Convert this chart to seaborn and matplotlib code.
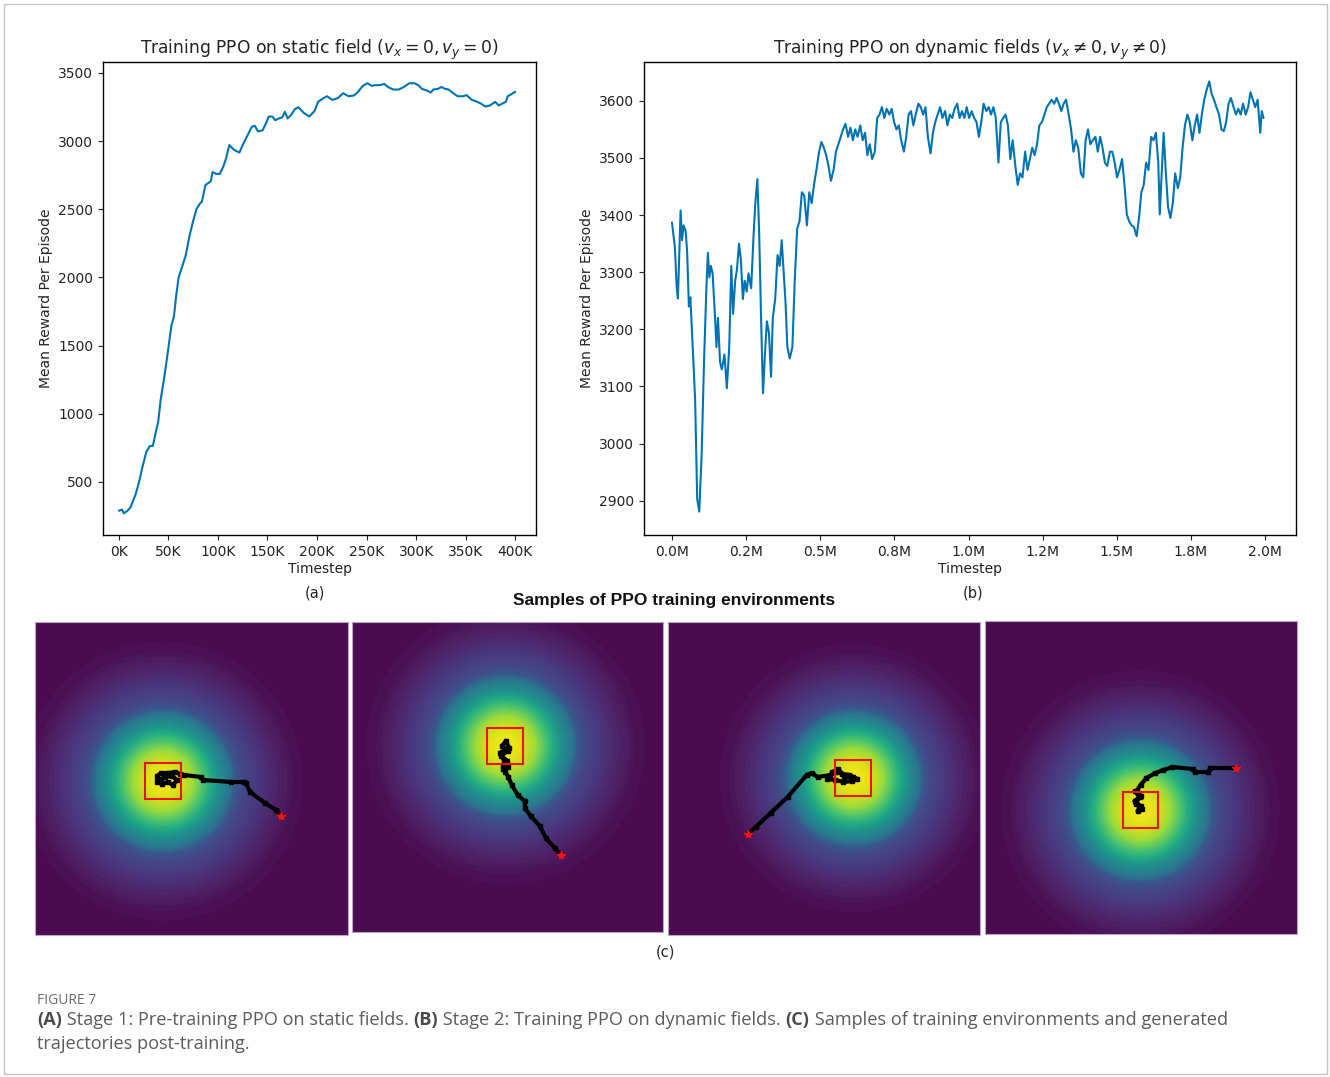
import numpy as np
import pandas as pd
import matplotlib
matplotlib.use("Agg")
import matplotlib.pyplot as plt
import seaborn as sns
from matplotlib.patches import Rectangle
from matplotlib.colors import ListedColormap
from matplotlib.ticker import FuncFormatter, FixedLocator

# ---------------- data ----------------
static_t_k = [0, 3.2, 5, 8.7, 11.5, 17, 20.6, 24, 27.8, 31.4, 34.3, 37.9, 39.7, 42.2, 45.8, 49.5, 53, 55.6,
              57.8, 60.3, 63.9, 67.5, 71.1, 74.7, 78.3, 81.9, 83.8, 87.4, 92.8, 94.6, 98.2, 101.8, 105.4, 108,
              111.5, 116.2, 121.7, 125.3, 130, 134.3, 137.2, 140.4, 145.1, 148.7, 151.3, 154.9, 157.8, 161.4,
              165, 167.5, 170.4, 174, 177.6, 181.2, 186.6, 192.1, 197.5, 201.1, 206.5, 210.1, 215.5, 221,
              226.3, 231.8, 237.2, 240.8, 246.2, 250.9, 255.2, 258.8, 263.2, 267.9, 271.5, 276.9, 282.3,
              287.7, 293.1, 298.6, 302.2, 305.8, 311.2, 314.8, 317.3, 322, 325.6, 329.3, 332.9, 336.5, 341.9,
              347.3, 350.9, 356.3, 361.7, 365.3, 370, 374.4, 379.8, 383.4, 387, 390.6, 392.4, 396, 400]
static_reward = [289, 297, 270, 289, 310, 411, 506, 615, 723, 764, 764, 886, 940, 1103, 1266, 1456, 1646, 1714,
                 1863, 1999, 2080, 2162, 2298, 2406, 2501, 2542, 2555, 2678, 2705, 2773, 2759, 2759, 2813, 2868,
                 2971, 2935, 2916, 2976, 3044, 3106, 3112, 3071, 3079, 3134, 3180, 3180, 3153, 3166,
                 3174, 3215, 3166, 3193, 3234, 3248, 3207, 3180, 3221, 3288, 3315, 3329, 3302, 3315,
                 3351, 3329, 3334, 3356, 3405, 3424, 3405, 3410, 3410, 3419, 3397, 3378, 3378,
                 3397, 3424, 3424, 3410, 3383, 3370, 3356, 3378, 3383, 3397, 3383, 3378, 3356, 3329,
                 3329, 3337, 3302, 3288, 3275, 3253, 3261, 3288, 3261, 3275, 3288, 3329, 3343, 3362]

dyn_t_m = [0, 0.0098, 0.016, 0.020, 0.025, 0.029, 0.034, 0.039, 0.046, 0.051, 0.057, 0.062, 0.070, 0.078,
           0.085, 0.092, 0.100, 0.108, 0.116, 0.121, 0.126, 0.131, 0.137, 0.144, 0.150, 0.155, 0.162, 0.168,
           0.177, 0.185, 0.193, 0.200, 0.206, 0.213, 0.219, 0.226, 0.232, 0.239, 0.245, 0.252, 0.258, 0.267,
           0.275, 0.281, 0.288, 0.294, 0.301, 0.307, 0.314, 0.320, 0.327, 0.334, 0.340, 0.348, 0.356, 0.363,
           0.370, 0.376, 0.383, 0.389, 0.397, 0.406, 0.414, 0.422, 0.430, 0.438, 0.446, 0.455, 0.463, 0.471,
           0.479, 0.487, 0.496, 0.504, 0.512, 0.520, 0.528, 0.536, 0.545, 0.553, 0.561, 0.569, 0.577, 0.585,
           0.594, 0.602, 0.610, 0.618, 0.626, 0.635, 0.643, 0.651, 0.659, 0.667, 0.675, 0.684, 0.692, 0.700,
           0.708, 0.716, 0.724, 0.733, 0.741, 0.749, 0.757, 0.765, 0.773, 0.782, 0.790, 0.798, 0.806, 0.814,
           0.822, 0.831, 0.839, 0.847, 0.855, 0.863, 0.872, 0.880, 0.888, 0.896, 0.904, 0.912, 0.921, 0.929,
           0.937, 0.945, 0.953, 0.962, 0.970, 0.978, 0.986, 0.994, 1.002, 1.011, 1.019, 1.027, 1.035, 1.043,
           1.051, 1.060, 1.068, 1.076, 1.084, 1.092, 1.101, 1.109, 1.117, 1.125, 1.133, 1.141, 1.149, 1.158,
           1.166, 1.174, 1.182, 1.191, 1.199, 1.207, 1.215, 1.223, 1.231, 1.239, 1.248, 1.256, 1.264, 1.272,
           1.280, 1.289, 1.297, 1.305, 1.313, 1.321, 1.329, 1.338, 1.346, 1.354, 1.362, 1.370, 1.379, 1.387,
           1.395, 1.403, 1.411, 1.419, 1.428, 1.436, 1.444, 1.452, 1.460, 1.468, 1.477, 1.485, 1.493, 1.501,
           1.509, 1.518, 1.526, 1.534, 1.542, 1.550, 1.558, 1.567, 1.575, 1.583, 1.591, 1.599, 1.607, 1.616,
           1.624, 1.632, 1.640, 1.645, 1.652, 1.658, 1.665, 1.673, 1.681, 1.689, 1.697, 1.706, 1.714, 1.722,
           1.730, 1.738, 1.746, 1.755, 1.763, 1.771, 1.779, 1.787, 1.795, 1.804, 1.812, 1.820, 1.828, 1.836,
           1.845, 1.853, 1.861, 1.869, 1.877, 1.885, 1.894, 1.902, 1.910, 1.918, 1.926, 1.935, 1.943, 1.951,
           1.959, 1.967, 1.975, 1.984, 1.989, 1.995]
dyn_reward = [3387, 3343, 3272, 3254, 3337, 3408, 3356, 3382, 3372, 3337, 3240, 3256, 3169, 3078,
              2903, 2881, 2981, 3143, 3272, 3334, 3291, 3311, 3298, 3233, 3169, 3220, 3143, 3130,
              3156, 3097, 3169, 3311, 3227, 3285, 3304, 3350, 3324, 3253, 3285, 3266, 3298, 3272,
              3363, 3421, 3463, 3369, 3207, 3088, 3162, 3214, 3194, 3117, 3220, 3253, 3330, 3311,
              3356, 3304, 3246, 3169, 3149, 3169, 3285, 3376, 3389, 3440, 3434, 3382, 3440, 3421,
              3453, 3479, 3511, 3528, 3518, 3505, 3486, 3460, 3479, 3511, 3524, 3537, 3550, 3560,
              3537, 3553, 3531, 3550, 3537, 3557, 3531, 3544, 3505, 3524, 3498, 3511, 3570, 3576,
              3589, 3570, 3586, 3576, 3586, 3563, 3550, 3557, 3531, 3511, 3537, 3576, 3582, 3557,
              3576, 3595, 3589, 3576, 3589, 3537, 3508, 3544, 3563, 3576, 3589, 3570, 3582, 3557,
              3576, 3570, 3586, 3595, 3570, 3582, 3570, 3589, 3570, 3582, 3570, 3563, 3537, 3563,
              3595, 3582, 3589, 3576, 3589, 3570, 3492, 3563, 3570, 3576, 3557, 3498, 3531, 3486,
              3453, 3473, 3466, 3511, 3479, 3498, 3518, 3505, 3524, 3557, 3563, 3576, 3589, 3595,
              3602, 3595, 3605, 3595, 3582, 3595, 3602, 3576, 3550, 3511, 3531, 3518, 3473, 3466,
              3531, 3550, 3524, 3531, 3537, 3511, 3537, 3518, 3492, 3486, 3511, 3511, 3492, 3466,
              3479, 3498, 3453, 3401, 3389, 3382, 3379, 3363, 3395, 3440, 3453, 3492, 3479, 3537,
              3531, 3544, 3492, 3401, 3479, 3544, 3479, 3414, 3395, 3421, 3473, 3447, 3466, 3518,
              3557, 3576, 3563, 3531, 3557, 3576, 3544, 3576, 3602, 3621, 3634, 3612, 3602, 3589,
              3576, 3550, 3547, 3563, 3595, 3605, 3589, 3576, 3586, 3576, 3595, 3576, 3589, 3615,
              3602, 3589, 3602, 3544, 3582, 3570]

static_xticks_k = [0, 50, 100, 150, 200, 250, 300, 350, 400]
static_yticks = [500, 1000, 1500, 2000, 2500, 3000, 3500]
dyn_xticks_m = [0, 0.25, 0.5, 0.75, 1.0, 1.25, 1.5, 1.75, 2.0]
dyn_yticks = [2900, 3000, 3100, 3200, 3300, 3400, 3500, 3600]

# environment samples (panel pixel units, 0..313)
field_cx = [128, 154, 186, 156]
field_cy = [159, 125, 156, 189]
field_scale = [1.0, 1.0, 0.96, 1.0]
# radial profile of the field (distance in px -> value on viridis scale)
profile_r = [0, 15, 30, 45, 55, 68, 73, 80, 95, 110, 130, 150]
profile_v = [1.0, 0.96, 0.86, 0.66, 0.52, 0.38, 0.27, 0.21, 0.15, 0.09, 0.03, 0.0]

traj1_x = [246, 241, 230, 215, 211, 209, 196, 168, 166, 149, 145, 140, 133, 126, 122, 122, 127, 133, 138, 142, 137, 130, 126]
traj1_y = [194, 188, 181, 170, 161, 160, 160, 158, 155, 153, 152, 150, 151, 151, 154, 160, 162, 160, 163, 158, 154, 155, 157]
traj2_x = [210, 204, 195, 189, 180, 174, 174, 167, 161, 157, 154, 152, 156, 150, 157, 151, 155, 158, 149, 153, 157, 152]
traj2_y = [235, 228, 218, 206, 196, 188, 181, 175, 165, 156, 151, 145, 140, 135, 130, 125, 120, 127, 132, 140, 146, 148]
traj3_x = [80, 88, 103, 120, 139, 144, 150, 163, 169, 175, 182, 190, 185, 176, 168, 160, 165, 171, 177, 186]
traj3_y = [212, 205, 191, 175, 153, 151, 155, 153, 150, 152, 153, 157, 159, 160, 158, 157, 150, 147, 155, 155]
traj4_x = [252, 226, 224, 211, 209, 188, 179, 171, 162, 156, 152, 157, 150, 156, 153, 158, 151, 155, 150]
traj4_y = [147, 147, 151, 151, 148, 146, 149, 152, 157, 164, 170, 175, 180, 185, 190, 188, 183, 176, 170]
box_half = 18

# ---------------- style ----------------
sns.set_theme(style="ticks")
plt.rcParams['font.family'] = ['DejaVu Sans']
plt.rcParams.update({
    'axes.edgecolor': 'black', 'axes.linewidth': 1.0,
    'xtick.color': '#222222', 'ytick.color': '#222222',
    'xtick.major.size': 3.5, 'ytick.major.size': 3.5,
    'xtick.major.width': 0.8, 'ytick.major.width': 0.8,
    'xtick.labelsize': 10, 'ytick.labelsize': 10,
    'axes.labelsize': 10, 'axes.titlesize': 12.3,
    'text.color': '#222222', 'axes.labelcolor': '#222222',
})
LINE = '#0173b2'

# viridis, with its dark end nudged toward the slightly warmer purple of the reference
_vc = plt.get_cmap('viridis')(np.linspace(0, 1, 256))
_t = np.linspace(0, 1, 256)
_fade = np.clip(1 - _t / 0.3, 0, 1)
_vc[:, 0] += 0.026 * _fade
_vc[:, 1] += 0.043 * _fade
_vc[:, 2] -= 0.02 * _fade
FIELD_CMAP = ListedColormap(np.clip(_vc, 0, 1))

W, H = 1330, 1077
fig = plt.figure(figsize=(W / 100, H / 100), dpi=100)
fig.patch.set_facecolor('white')


def box(x0, y0, x1, y1):
    return [x0 / W, 1 - y1 / H, (x1 - x0) / W, (y1 - y0) / H]


# ---- panel a ----
ax_a = fig.add_axes(box(103, 62, 536, 535))
df_a = pd.DataFrame({"Timestep": np.array(static_t_k) * 1000.0, "Reward": static_reward})
sns.lineplot(data=df_a, x="Timestep", y="Reward", ax=ax_a, color=LINE, lw=1.5)
ax_a.set_xlim(-16000, 421000)
ax_a.set_ylim(111, 3580)
ax_a.xaxis.set_major_locator(FixedLocator(np.array(static_xticks_k) * 1000.0))
ax_a.xaxis.set_major_formatter(FuncFormatter(lambda v, p: f"{v / 1000:.0f}K"))
ax_a.yaxis.set_major_locator(FixedLocator(static_yticks))
ax_a.set_xlabel("Timestep", labelpad=2)
ax_a.set_ylabel("Mean Reward Per Episode")
ax_a.set_title(r"Training PPO on static field ($v_x = 0, v_y = 0$)", pad=6)

# ---- panel b ----
ax_b = fig.add_axes(box(644, 62, 1296, 535))
df_b = pd.DataFrame({"Timestep": np.array(dyn_t_m) * 1e6, "Reward": dyn_reward})
sns.lineplot(data=df_b, x="Timestep", y="Reward", ax=ax_b, color=LINE, lw=1.5)
ax_b.set_xlim(-0.0944e6, 2.1045e6)
ax_b.set_ylim(2840, 3668)
ax_b.xaxis.set_major_locator(FixedLocator(np.array(dyn_xticks_m) * 1e6))
ax_b.xaxis.set_major_formatter(FuncFormatter(lambda v, p: f"{v / 1e6:.1f}M"))
ax_b.yaxis.set_major_locator(FixedLocator(dyn_yticks))
ax_b.set_xlabel("Timestep", labelpad=2)
ax_b.set_ylabel("Mean Reward Per Episode")
ax_b.set_title(r"Training PPO on dynamic fields ($v_x \neq 0, v_y \neq 0$)", pad=6)

fig.text(315 / W, 1 - 593 / H, "(a)", ha='center', va='center', fontsize=10.5, color='#222222')
fig.text(973 / W, 1 - 593 / H, "(b)", ha='center', va='center', fontsize=10.5, color='#222222')

fig.text(674 / W, 1 - 601 / H, "Samples of PPO training environments", ha='center', va='center',
         fontsize=12.5, fontweight='bold', family=['Liberation Sans'], color='#111111')

# ---- environment samples ----
panels = [(35, 622, 348, 935), (352, 622, 663, 932), (668, 622, 980, 935), (985, 621, 1297, 934)]
trajs = [(traj1_x, traj1_y), (traj2_x, traj2_y), (traj3_x, traj3_y), (traj4_x, traj4_y)]
N = 313
yy, xx = np.mgrid[0:N, 0:N] + 0.5
for i, (x0, y0, x1, y1) in enumerate(panels):
    ax = fig.add_axes(box(x0, y0, x1, y1))
    r = np.sqrt((xx - field_cx[i]) ** 2 + (yy - field_cy[i]) ** 2) / field_scale[i]
    v = np.interp(r, profile_r, profile_v)
    v = np.floor(v * 64) / 64
    ax.imshow(v, cmap=FIELD_CMAP, vmin=0, vmax=1, extent=[0, N, N, 0], aspect='auto', interpolation='bilinear')
    tx, ty = trajs[i]
    ax.plot(tx, ty, color='black', lw=3.0, solid_joinstyle='round', solid_capstyle='round', zorder=3)
    ax.plot(tx, ty, ls='none', marker='s', ms=3, color='black', zorder=3)
    ax.add_patch(Rectangle((field_cx[i] - box_half, field_cy[i] - box_half), 2 * box_half, 2 * box_half,
                           fill=False, edgecolor='#ee1111', lw=1.5, zorder=4))
    ax.plot([tx[0]], [ty[0]], marker='*', ms=6, color='#ff1010', ls='none', zorder=5)
    ax.set_xlim(0, N)
    ax.set_ylim(N, 0)
    ax.set_xticks([])
    ax.set_yticks([])
    for s in ax.spines.values():
        s.set_edgecolor('#b9a3c4')
        s.set_linewidth(0.8)

fig.text(665 / W, 1 - 952 / H, "(c)", ha='center', va='center', fontsize=10.5, color='#222222')

# ---- caption ----
fig.text(37 / W, 1 - 1000 / H, "FIGURE 7", ha='left', va='center', fontsize=10,
         family=['Open Sans'], color='#6b6b6b')

renderer = fig.canvas.get_renderer()


def runs(x_px, y_px, parts, size=13.1):
    x = x_px
    for txt, bold in parts:
        t = fig.text(x / W, 1 - y_px / H, txt, ha='left', va='center', fontsize=size,
                     family=['Open Sans'], fontweight='bold' if bold else 'normal',
                     color='#4a4a4a' if bold else '#5a5a5a')
        bb = t.get_window_extent(renderer=renderer)
        x += bb.width


runs(37, 1020, [("(A)", True), (" Stage 1: Pre-training PPO on static fields. ", False),
                ("(B)", True), (" Stage 2: Training PPO on dynamic fields. ", False),
                ("(C)", True), (" Samples of training environments and generated", False)])
runs(37, 1044, [("trajectories post-training.", False)])

# outer frame
fig.patches.append(Rectangle((4 / W, 3 / H), 1323 / W, 1070 / H, transform=fig.transFigure,
                             fill=False, edgecolor='#c4c4c4', lw=1.0))

fig.savefig("out.png", dpi=100, facecolor='white')
